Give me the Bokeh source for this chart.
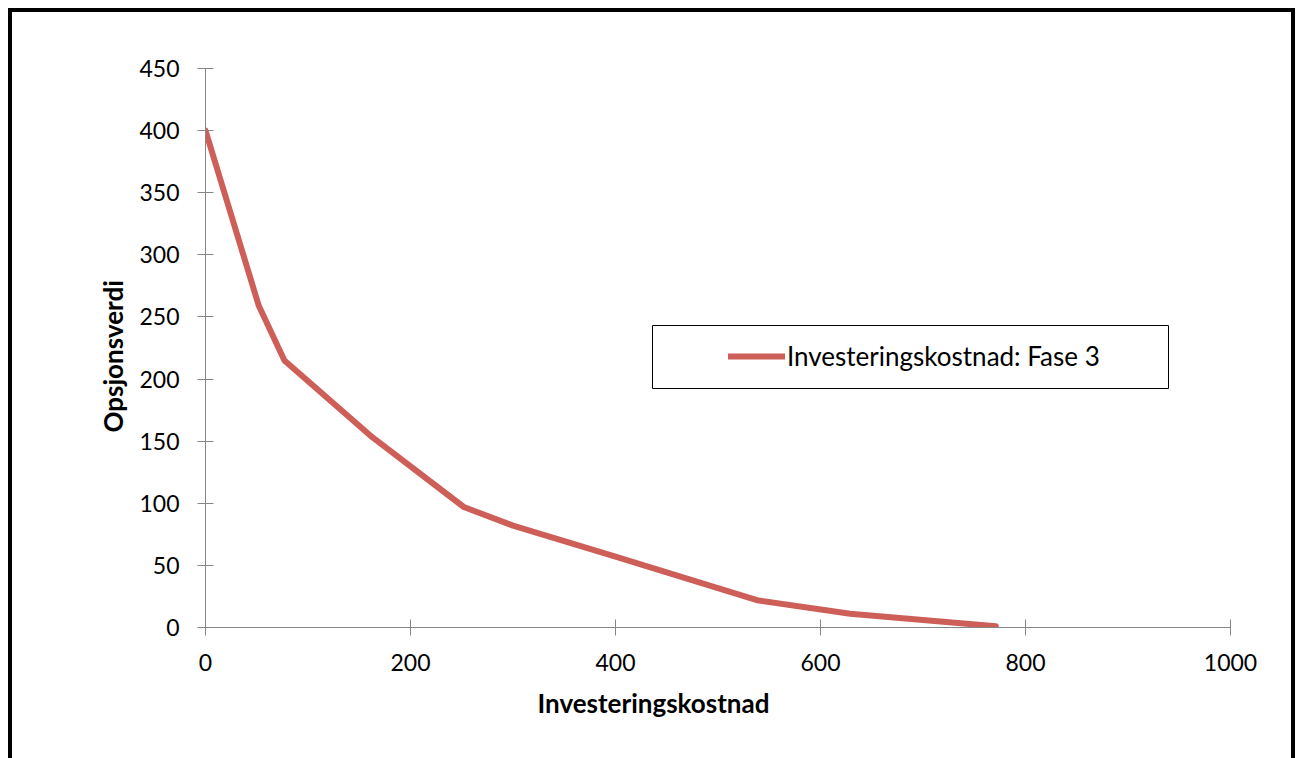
from bokeh.plotting import figure
from bokeh.models import BoxAnnotation, Legend, LegendItem, FixedTicker, Range1d, InlineStyleSheet, Title
from bokeh.embed import file_html
from bokeh.resources import INLINE

# Option value versus investment cost, phase 3
investeringskostnad = [0, 52, 77, 163, 252, 300, 400, 538, 629, 771]
opsjonsverdi = [400, 259, 215, 153, 97, 82, 57, 22, 11, 1]
x_ticks = [0, 200, 400, 600, 800, 1000]
y_ticks = [0, 50, 100, 150, 200, 250, 300, 350, 400, 450]
series_label = "Investeringskostnad: Fase 3"
x_title = "Investeringskostnad"
y_title = "Opsjonsverdi"

FONT = "Lato"
AXIS_GREY = "#868686"
LINE_RED = "#CD5F58"

# heavy black frame around the whole chart area
frame_css = InlineStyleSheet(css="""
:host { position: relative; }
:host::after {
  content: "";
  position: absolute;
  left: 8px; top: 8px; right: 5px; bottom: 0px;
  border: 4px solid black;
  border-bottom: none;
  pointer-events: none;
  z-index: 10;
}
""")

p = figure(
    width=1300, height=758,
    output_backend="svg", toolbar_location=None,
    x_range=Range1d(0, 1000), y_range=Range1d(0, 450),
    min_border_left=205, min_border_right=70,
    min_border_top=68, min_border_bottom=131,
    stylesheets=[frame_css],
)
p.outline_line_color = None
p.xgrid.visible = False
p.ygrid.visible = False

line = p.line(investeringskostnad, opsjonsverdi, line_color=LINE_RED,
              line_width=6, line_cap="round", line_join="round")

for ax in (p.xaxis[0], p.yaxis[0]):
    ax.axis_line_color = AXIS_GREY
    ax.major_tick_line_color = AXIS_GREY
    ax.major_tick_in = 8
    ax.major_tick_out = 8
    ax.minor_tick_line_color = None
    ax.major_label_text_font = FONT
    ax.major_label_text_font_size = "23px"
    ax.major_label_text_color = "black"

p.xaxis.ticker = FixedTicker(ticks=x_ticks)
p.yaxis.ticker = FixedTicker(ticks=y_ticks)
p.xaxis.major_label_standoff = 18
p.yaxis.major_label_standoff = 18

# axis titles, set slightly off-centre along each axis
p.add_layout(Title(text=x_title, align="left", offset=332, standoff=23,
                   text_font=FONT, text_font_size="26px",
                   text_font_style="bold", text_color="black"), "below")
p.add_layout(Title(text=y_title, align="left", offset=195, standoff=16,
                   text_font=FONT, text_font_size="26px",
                   text_font_style="bold", text_color="black"), "left")

# legend frame (screen offsets from the plot frame's lower-left corner)
p.add_layout(BoxAnnotation(left=447, right=963, bottom=239, top=302,
                           left_units="screen", right_units="screen",
                           top_units="screen", bottom_units="screen",
                           fill_color="white", fill_alpha=1,
                           line_color="black", line_alpha=1, line_width=1,
                           level="underlay"))

legend = Legend(items=[LegendItem(label=series_label, renderers=[line])],
                location=(523, 255), glyph_width=57, label_standoff=2,
                padding=0, margin=0, border_line_color=None,
                background_fill_alpha=0,
                label_text_font=FONT, label_text_font_size="26px",
                label_text_color="black")
p.add_layout(legend, "center")

open("out.html", "w").write(file_html(p, INLINE))
